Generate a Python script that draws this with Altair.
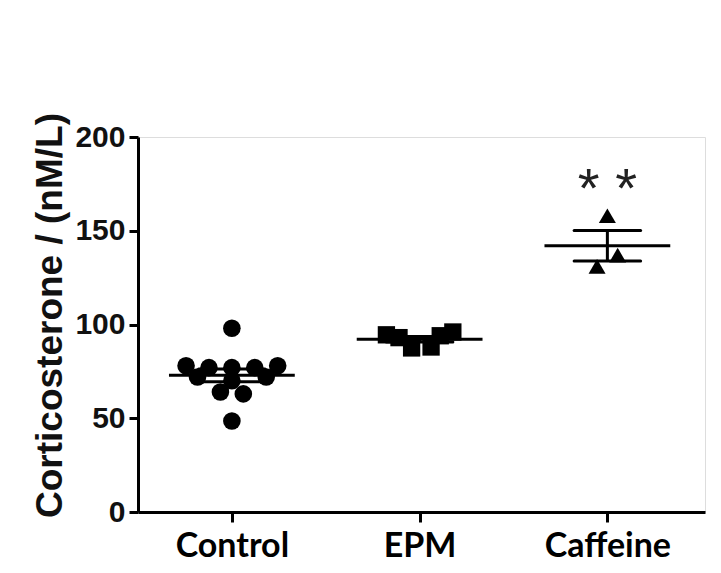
import altair as alt
import numpy as np
import pandas as pd

# ---- data ----
groups = ["Control", "EPM", "Caffeine"]
control_values = [98, 78, 77, 77, 77, 78, 72, 72, 70, 64, 63, 48.5]
control_slots = [0, -2, -1, 0, 1, 2, -1.5, 1.5, 0, -0.5, 0.5, 0]
epm_values = [94.5, 96, 87.5, 88, 93, 94]
epm_slots = [-1.45, 1.45, -0.35, 0.5, -0.9, 0.9]
caffeine_values = [158, 131, 137]
caffeine_slots = [0, -0.45, 0.45]
y_ticks = [0, 50, 100, 150, 200]
annotation = "* *"

# ---- style ----
SLOT_W = 0.122
MEAN_HALF = 0.335
CAP_HALF = 0.177
shapes = ["circle", "square", "triangle-up"]

rows = []
summ = []
for i, (g, vals, slots) in enumerate(zip(groups,
                                          [control_values, epm_values, caffeine_values],
                                          [control_slots, epm_slots, caffeine_slots])):
    for v, s in zip(vals, slots):
        rows.append({"group": g, "x": i + s * SLOT_W, "value": v})
    arr = np.array(vals, dtype=float)
    m = arr.mean()
    sem = arr.std(ddof=1) / np.sqrt(len(arr))
    summ.append({"group": g, "xc": i, "mean": m, "lo": m - sem, "hi": m + sem,
                 "ml": i - MEAN_HALF, "mr": i + MEAN_HALF,
                 "cl": i - CAP_HALF, "cr": i + CAP_HALF})
pts = pd.DataFrame(rows)
sm = pd.DataFrame(summ)

label_expr = "datum.value == 0 ? '%s' : datum.value == 1 ? '%s' : '%s'" % tuple(groups)

xscale = alt.Scale(domain=[-0.5, 2.52], nice=False, zero=False)
yscale = alt.Scale(domain=[0, 200], nice=False)

xaxis = alt.Axis(values=[0, 1, 2], labelExpr=label_expr, title=None, grid=False,
                 labelFont="Lato", labelFontWeight="bold", labelFontSize=34,
                 labelColor="black", labelPadding=7, tickSize=10, tickWidth=3,
                 tickColor="black", domainColor="black", domainWidth=3)
yaxis = alt.Axis(values=y_ticks, title="Corticosterone / (nM/L)", grid=False,
                 labelFont="Liberation Sans", labelFontWeight="bold", labelFontSize=30,
                 labelColor="#111", labelPadding=4, tickSize=9, tickWidth=3,
                 tickColor="black", domainColor="black", domainWidth=3,
                 titleFont="Liberation Sans", titleFontWeight="bold", titleFontSize=37,
                 titleColor="#111", titlePadding=5, titleY=178)

base_x = alt.X("x:Q", scale=xscale, axis=xaxis)

points = alt.Chart(pts).mark_point(filled=True, opacity=1, color="black").encode(
    x=base_x,
    y=alt.Y("value:Q", scale=yscale, axis=yaxis),
    shape=alt.Shape("group:N", scale=alt.Scale(domain=groups, range=shapes), legend=None),
    size=alt.Size("group:N", scale=alt.Scale(domain=groups, range=[310, 290, 320]), legend=None),
)

mean_line = alt.Chart(sm).mark_rule(color="black", strokeWidth=3).encode(
    x=alt.X("ml:Q", scale=xscale), x2="mr:Q", y=alt.Y("mean:Q", scale=yscale))
cap_hi = alt.Chart(sm).mark_rule(color="black", strokeWidth=3, strokeCap="round").encode(
    x=alt.X("cl:Q", scale=xscale), x2="cr:Q", y=alt.Y("hi:Q", scale=yscale))
cap_lo = alt.Chart(sm).mark_rule(color="black", strokeWidth=3, strokeCap="round").encode(
    x=alt.X("cl:Q", scale=xscale), x2="cr:Q", y=alt.Y("lo:Q", scale=yscale))
vbar = alt.Chart(sm).mark_rule(color="black", strokeWidth=3).encode(
    x=alt.X("xc:Q", scale=xscale), y=alt.Y("lo:Q", scale=yscale), y2="hi:Q")

ann = alt.Chart(pd.DataFrame({"x": [2], "y": [176], "t": [annotation]})).mark_text(
    font="Liberation Sans", fontSize=56, color="#222", baseline="middle", dy=8
).encode(x=alt.X("x:Q", scale=xscale), y=alt.Y("y:Q", scale=yscale), text="t:N")

chart = alt.layer(points, mean_line, cap_hi, cap_lo, vbar, ann).properties(
    width=567, height=375,
    autosize=alt.AutoSizeParams(type="none"),
    padding={"left": 130, "top": 129, "right": 8, "bottom": 50},
).configure_view(stroke=None).configure(background="white")

chart.save("out.html", embed_options={"renderer": "svg", "actions": False})
